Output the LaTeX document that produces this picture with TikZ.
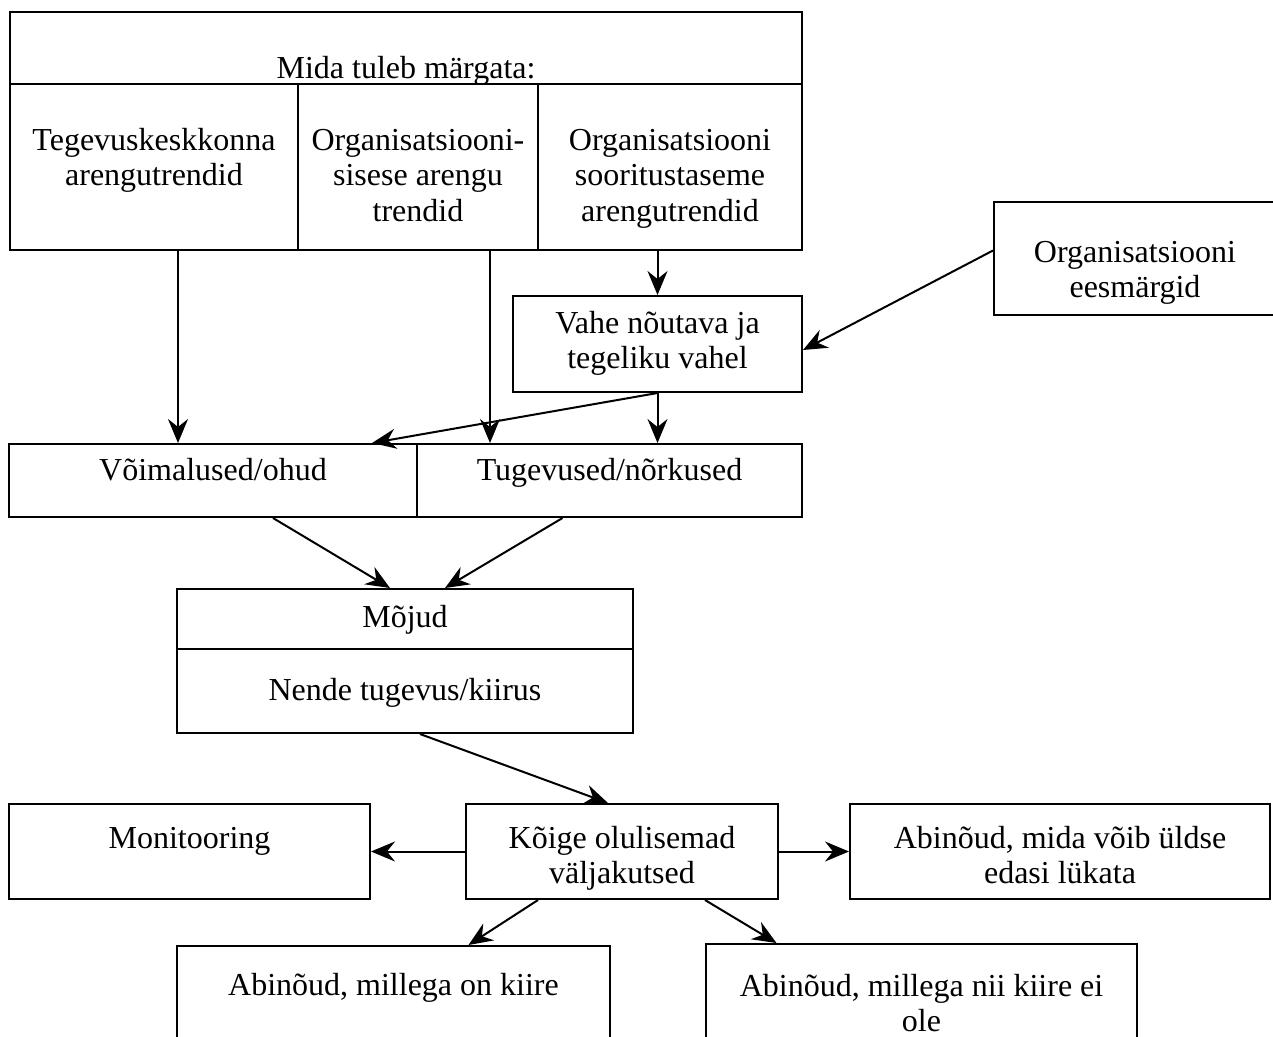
\documentclass[tikz,border=0pt]{standalone}
\usepackage{fontspec}
\setmainfont{Liberation Serif}
\usetikzlibrary{arrows.meta}
\newcommand\boxfont{\fontsize{32}{35.5}\selectfont}
\tikzset{box/.style={draw,align=center,inner sep=0pt,font=\boxfont}}

\begin{document}
\begin{tikzpicture}[x=1pt,y=-1pt,line width=2pt,>={Stealth[length=24pt,width=20pt,inset=8pt]}]
\useasboundingbox (0,0) rectangle (1273,1036);
\node[box,minimum width=792,minimum height=72,text height=64,text depth=4] (head) at (406,48) {Mida tuleb märgata:};
\node[box,minimum width=288,minimum height=166,text height=60,text depth=23] (c1) at (154,167) {Tegevuskeskkonna\\arengutrendid};
\node[box,minimum width=240,minimum height=166,text height=120,text depth=12] (c2) at (418,167) {Organisatsiooni-\\sisese arengu\\trendid};
\node[box,minimum width=264,minimum height=166,text height=120,text depth=12] (c3) at (670,167) {Organisatsiooni\\sooritustaseme\\arengutrendid};
%
\node[box,minimum width=282,minimum height=113,text height=88,text depth=10] (ee) at (1135,258.5) {Organisatsiooni\\eesmärgid};
\node[box,minimum width=289,minimum height=96,text height=60,text depth=11] (vahe) at (657.5,344) {Vahe nõutava ja\\tegeliku vahel};
%
\node[box,minimum width=408,minimum height=73,text height=24,text depth=25] (voim) at (213,480.5) {Võimalused/ohud};
\node[box,minimum width=385,minimum height=73,text height=24,text depth=25] (tug) at (609.5,480.5) {Tugevused/nõrkused};
%
\node[box,minimum width=456,minimum height=60,text height=24,text depth=8] (mojud) at (405,619) {Mõjud};
\node[box,minimum width=456,minimum height=84,text height=26,text depth=8] (nende) at (405,691) {Nende tugevus/kiirus};
%%
\node[box,minimum width=361,minimum height=95,text height=24,text depth=31] (moni) at (189.5,851.5) {Monitooring};
\node[box,minimum width=312,minimum height=95,text height=76,text depth=12] (koige) at (622,851.5) {Kõige olulisemad\\väljakutsed};
\node[box,minimum width=420,minimum height=95,text height=76,text depth=12] (edasi) at (1060,851.5) {Abinõud, mida võib üldse\\edasi lükata};
\node[box,minimum width=433,minimum height=130,text height=24,text depth=56] (kiire) at (393.5,1011) {Abinõud, millega on kiire};
\node[box,minimum width=431,minimum height=132,text height=60,text depth=17] (nii) at (921.5,1010) {Abinõud, millega nii kiire ei\\ole};
%%
\draw[->] ([xshift=24]c1.south) -- ([xshift=24]c1.south |- voim.north);
\draw[->] ([xshift=72]c2.south) -- ([xshift=72]c2.south |- tug.north);
\draw[->] (vahe.north |- c3.south) -- (vahe.north);
\draw[->] (vahe.south) -- (vahe.south |- tug.north);
\draw[->] (vahe.south) -- ([xshift=159]voim.north);
\draw[->] ([yshift=8]ee.west) -- ([yshift=-6]vahe.east);
\draw[->] ([xshift=60]voim.south) -- ([xshift=-15]mojud.north);
\draw[->] ([xshift=-47]tug.south) -- ([xshift=40]mojud.north);
\draw[->] ([xshift=15]nende.south) -- ([xshift=-14]koige.north);
\draw[->] (koige.west) -- (moni.east);
\draw[->] (koige.east) -- (edasi.west);
\draw[->] ([xshift=-84]koige.south) -- ([xshift=75]kiire.north);
\draw[->] ([xshift=83]koige.south) -- ([xshift=-145]nii.north);
\end{tikzpicture}
\end{document}
